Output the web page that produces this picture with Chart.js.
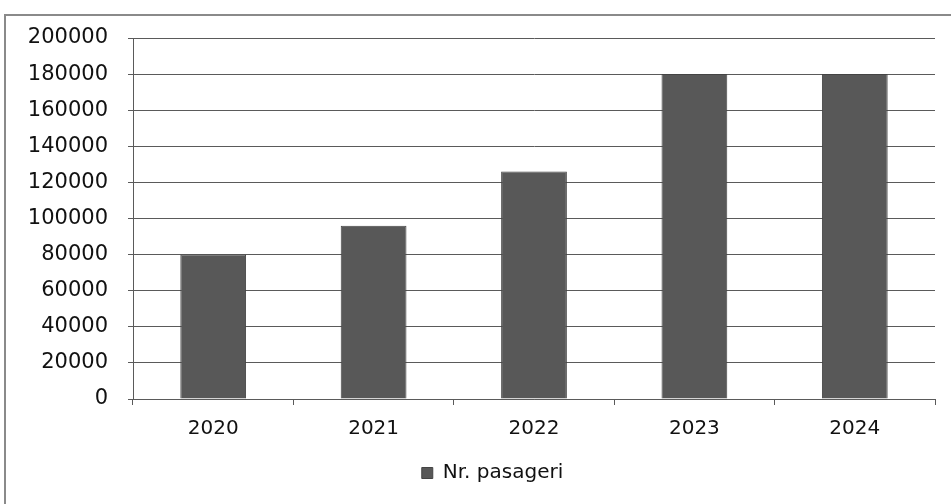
<!DOCTYPE html>
<html>
<head>
<meta charset="utf-8">
<script src="https://cdn.jsdelivr.net/npm/chart.js@4/dist/chart.umd.min.js"></script>
<style>
  html, body { margin: 0; padding: 0; background: #fff; }
  #wrap { position: relative; width: 951px; height: 504px; }
  #frame {
    position: absolute; left: 4px; top: 14px; width: 960px; height: 500px;
    border-left: 2px solid #8a8a8a; border-top: 2px solid #8a8a8a;
    pointer-events: none;
  }
</style>
</head>
<body>
<div id="wrap">
  <canvas id="myChart" width="951" height="504"></canvas>
  <div id="frame"></div>
</div>
<script>
const years = ['2020', '2021', '2022', '2023', '2024'];
const pasageri = [80000, 96000, 126000, 180000, 180000];
const yTicks = [0, 20000, 40000, 60000, 80000, 100000, 120000, 140000, 160000, 180000, 200000];
const seriesName = 'Nr. pasageri';

const barColor = '#585858';
const gridColor = '#5a5a5a';
const fontFamily = '"DejaVu Sans", sans-serif';

// the legend sits a little right of centre in the original
const legendShift = {
    id: 'legendShift',
    afterLayout: function (chart) {
        chart.legend.left += 20;
        chart.legend.right += 20;
    }
};

const ctx = document.getElementById('myChart').getContext('2d');
const myChart = new Chart(ctx, {
    type: 'bar',
    data: {
        labels: years,
        datasets: [
            {
                label: seriesName,
                data: pasageri,
                backgroundColor: barColor,
                borderColor: '#444444',
                borderWidth: 1,
                categoryPercentage: 1,
                barPercentage: 0.41
            }
        ]
    },
    options: {
        responsive: false,
        animation: false,
        layout: {
            padding: { left: 10, right: 16, top: 38, bottom: 11 }
        },
        plugins: {
            legend: {
                position: 'bottom',
                labels: {
                    boxWidth: 11,
                    boxHeight: 11,
                    color: '#111',
                    padding: 10,
                    font: { family: fontFamily, size: 20 }
                }
            },
            tooltip: { enabled: false }
        },
        scales: {
            x: {
                offset: true,
                grid: {
                    display: true,
                    drawOnChartArea: false,
                    drawTicks: true,
                    tickLength: 6,
                    offset: true,
                    color: gridColor
                },
                border: { color: gridColor, width: 1 },
                ticks: {
                    color: '#111',
                    padding: 12,
                    font: { family: fontFamily, size: 20 }
                }
            },
            y: {
                min: 0,
                max: 200000,
                afterBuildTicks: function (scale) {
                    scale.ticks = yTicks.map(function (v) { return { value: v }; });
                },
                afterFit: function (scale) {
                    scale.width = 123;
                },
                grid: {
                    color: gridColor,
                    lineWidth: 1,
                    tickLength: 5
                },
                border: { color: gridColor, width: 1 },
                ticks: {
                    color: '#111',
                    padding: 20,
                    font: { family: fontFamily, size: 21 },
                    callback: function (v) { return String(v); }
                }
            }
        }
    },
    plugins: [legendShift]
});
</script>
</body>
</html>
